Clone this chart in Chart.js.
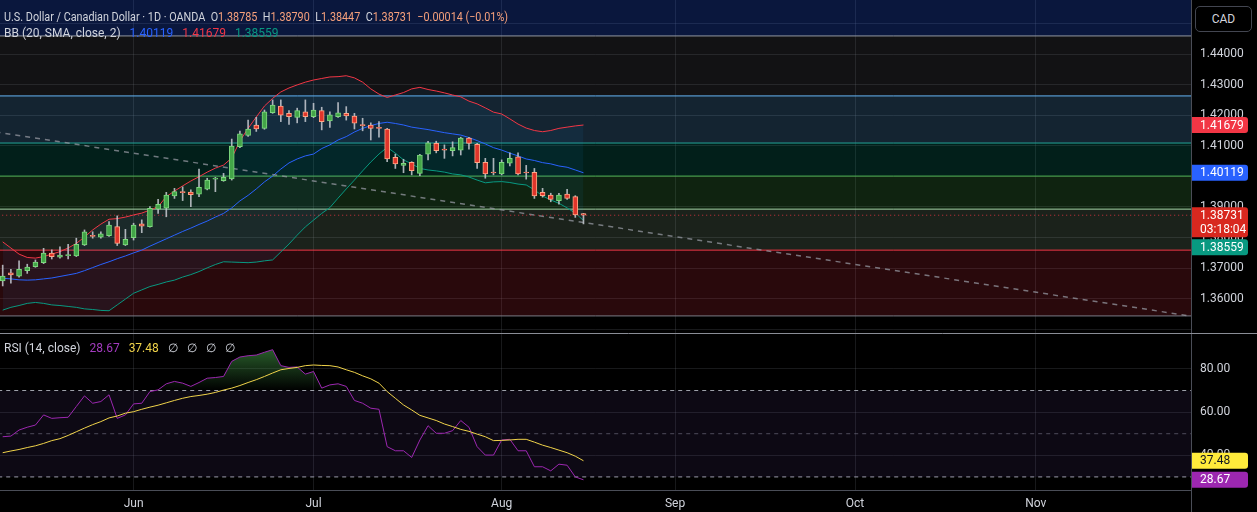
<!DOCTYPE html>
<html>
<head>
<meta charset="utf-8">
<title>USD/CAD 1D</title>
<script src="https://cdn.jsdelivr.net/npm/chart.js@4.4.1/dist/chart.umd.min.js"></script>
<style>
  html, body { margin: 0; padding: 0; background: #000; overflow: hidden; }
  #wrap { position: relative; width: 1257px; height: 512px; font-family: Roboto, "Noto Sans", sans-serif; }
  #priceChart { position: absolute; left: 0; top: 0; }
  #rsiChart { position: absolute; left: 0; top: 333px; }
  .legend { position: absolute; left: 4px; font-size: 12px; line-height: 14px; color: #d1d4dc; white-space: nowrap; }
  #titleLine { transform: scaleX(0.9); transform-origin: 0 0; }
  .legend .k { margin-left: 6px; }
  .legend .gap { margin-left: 9px; }
  .dn { color: #f7a17c; }
  #cad { position: absolute; left: 1195px; top: 6px; width: 57px; height: 26px; box-sizing: border-box;
         border: 1px solid #434651; border-radius: 5px; color: #d1d4dc; font-size: 12px; line-height: 24px;
         text-align: center; background: #000; }
</style>
</head>
<body>
<div id="wrap">
  <canvas id="priceChart" width="1257" height="333"></canvas>
  <canvas id="rsiChart" width="1257" height="179"></canvas>
  <div class="legend" id="titleLine" style="top:10px"></div>
  <div class="legend" id="bbLine" style="top:26px"></div>
  <div class="legend" id="rsiLine" style="top:341px"></div>
  <div id="cad">CAD</div>
</div>
<script>
// daily candles, one per bar index
const candleOpen = [
  1.3658, 1.3685, 1.3674, 1.3692, 1.3705, 1.3718, 1.3749, 1.3736, 1.3741, 1.3740,
  1.3776, 1.3806, 1.3801, 1.3806, 1.3836, 1.3776, 1.3800, 1.3845, 1.3836, 1.3893,
  1.3896, 1.3936, 1.3948, 1.3949, 1.3942, 1.3958, 1.3991, 1.3986, 1.3992, 1.4097,
  1.4134, 1.4168, 1.4157, 1.4208, 1.4230, 1.4206, 1.4193, 1.4211, 1.4195, 1.4215,
  1.4181, 1.4195, 1.4206, 1.4197, 1.4168, 1.4168, 1.4158, 1.4155, 1.4062, 1.4036,
  1.4046, 1.4010, 1.4073, 1.4108, 1.4087, 1.4084, 1.4086, 1.4125, 1.4105, 1.4046,
  1.4013, 1.4008, 1.4043, 1.4064, 1.4013, 1.4013, 1.3948, 1.3939, 1.3921, 1.3942,
  1.3934, 1.38785
];
const candleHigh = [
  1.3710, 1.3696, 1.3724, 1.3713, 1.3727, 1.3765, 1.3760, 1.3770, 1.3778, 1.3798,
  1.3825, 1.3819, 1.3819, 1.3852, 1.3871, 1.3827, 1.3847, 1.3858, 1.3901, 1.3925,
  1.3948, 1.3961, 1.3966, 1.3956, 1.4024, 1.3994, 1.3997, 1.4010, 1.4122, 1.4148,
  1.4184, 1.4193, 1.4217, 1.4250, 1.4250, 1.4215, 1.4223, 1.4250, 1.4239, 1.4226,
  1.4211, 1.4241, 1.4228, 1.4206, 1.4190, 1.4175, 1.4179, 1.4157, 1.4073, 1.4056,
  1.4048, 1.4072, 1.4115, 1.4115, 1.4103, 1.4113, 1.4128, 1.4128, 1.4108, 1.4059,
  1.4059, 1.4054, 1.4077, 1.4077, 1.4036, 1.4026, 1.3961, 1.3945, 1.3945, 1.3958,
  1.3937, 1.38790
];
const candleLow = [
  1.3642, 1.3651, 1.3671, 1.3683, 1.3703, 1.3715, 1.3730, 1.3733, 1.3730, 1.3738,
  1.3774, 1.3798, 1.3798, 1.3804, 1.3774, 1.3774, 1.3792, 1.3816, 1.3834, 1.3879,
  1.3868, 1.3928, 1.3921, 1.3901, 1.3934, 1.3956, 1.3950, 1.3984, 1.3988, 1.4094,
  1.4131, 1.4147, 1.4154, 1.4206, 1.4179, 1.4170, 1.4175, 1.4179, 1.4192, 1.4152,
  1.4160, 1.4193, 1.4184, 1.4155, 1.4149, 1.4119, 1.4128, 1.4048, 1.4026, 1.4012,
  1.4005, 1.4002, 1.4054, 1.4077, 1.4059, 1.4067, 1.4070, 1.4089, 1.4026, 1.3994,
  1.4005, 1.4005, 1.4034, 1.4005, 1.3991, 1.3928, 1.3932, 1.3917, 1.3909, 1.3925,
  1.3866, 1.38447
];
const candleClose = [
  1.3674, 1.3678, 1.3696, 1.3704, 1.3720, 1.3749, 1.3738, 1.3743, 1.3743, 1.3778,
  1.3819, 1.3804, 1.3812, 1.3841, 1.3781, 1.3794, 1.3841, 1.3837, 1.3896, 1.3909,
  1.3939, 1.3950, 1.3947, 1.3940, 1.3964, 1.3988, 1.3992, 1.3997, 1.4099, 1.4139,
  1.4155, 1.4155, 1.4211, 1.4233, 1.4200, 1.4195, 1.4215, 1.4195, 1.4217, 1.4179,
  1.4201, 1.4208, 1.4198, 1.4174, 1.4166, 1.4157, 1.4157, 1.4057, 1.4041, 1.4043,
  1.4019, 1.4070, 1.4110, 1.4084, 1.4086, 1.4094, 1.4125, 1.4108, 1.4045, 1.4008,
  1.4011, 1.4046, 1.4059, 1.4008, 1.4011, 1.3936, 1.3937, 1.3925, 1.3939, 1.3928,
  1.38745, 1.38731
];

// Bollinger bands (20, 2)
const bbUpper = [
  1.3786, 1.3766, 1.3746, 1.3735, 1.3733, 1.3738, 1.3746, 1.3754, 1.3766, 1.3781,
  1.3802, 1.3825, 1.3844, 1.3860, 1.3862, 1.3867, 1.3874, 1.3880, 1.3890, 1.3901,
  1.3934, 1.3952, 1.3969, 1.3985, 1.3999, 1.4014, 1.4027, 1.4037, 1.4060, 1.4116,
  1.4157, 1.4194, 1.4230, 1.4255, 1.4276, 1.4289, 1.4299, 1.4308, 1.4315, 1.4320,
  1.4325, 1.4326, 1.4329, 1.4322, 1.4308, 1.4286, 1.4269, 1.4258, 1.4266, 1.4274,
  1.4286, 1.4291, 1.4284, 1.4279, 1.4273, 1.4266, 1.4260, 1.4246, 1.4237, 1.4224,
  1.4210, 1.4204, 1.4188, 1.4171, 1.4158, 1.4150, 1.4146, 1.4150, 1.4157, 1.4161,
  1.4165, 1.41679
];
const bbBasis = [
  1.3667, 1.3665, 1.3662, 1.3661, 1.3662, 1.3665, 1.3668, 1.3673, 1.3678, 1.3683,
  1.3692, 1.3702, 1.3712, 1.3721, 1.3731, 1.3740, 1.3750, 1.3759, 1.3772, 1.3784,
  1.3796, 1.3808, 1.3820, 1.3831, 1.3843, 1.3854, 1.3867, 1.3879, 1.3897, 1.3920,
  1.3938, 1.3959, 1.3982, 1.4001, 1.4024, 1.4044, 1.4057, 1.4067, 1.4073, 1.4091,
  1.4103, 1.4119, 1.4130, 1.4145, 1.4157, 1.4166, 1.4173, 1.4177, 1.4173, 1.4168,
  1.4161, 1.4157, 1.4153, 1.4148, 1.4143, 1.4139, 1.4135, 1.4127, 1.4117, 1.4106,
  1.4094, 1.4086, 1.4076, 1.4067, 1.4057, 1.4052, 1.4045, 1.4041, 1.4034, 1.4030,
  1.4021, 1.40119
];
const bbLower = [
  1.3563, 1.3572, 1.3578, 1.3585, 1.3588, 1.3585, 1.3580, 1.3578, 1.3575, 1.3572,
  1.3567, 1.3565, 1.3562, 1.3561, 1.3580, 1.3599, 1.3618, 1.3629, 1.3640, 1.3647,
  1.3655, 1.3661, 1.3671, 1.3679, 1.3689, 1.3701, 1.3712, 1.3721, 1.3720, 1.3719,
  1.3718, 1.3720, 1.3724, 1.3727, 1.3753, 1.3779, 1.3808, 1.3835, 1.3857, 1.3879,
  1.3898, 1.3929, 1.3959, 1.3988, 1.4018, 1.4047, 1.4073, 1.4095, 1.4076, 1.4054,
  1.4041, 1.4026, 1.4021, 1.4018, 1.4014, 1.4008, 1.4005, 1.3998, 1.3988, 1.3979,
  1.3982, 1.3983, 1.3980, 1.3975, 1.3972, 1.3956, 1.3936, 1.3923, 1.3912, 1.3897,
  1.3880, 1.38559
];

// RSI (14) and its moving average
const rsiValues = [
  48.6, 48.9, 51.7, 53.0, 54.0, 58.7, 57.1, 57.4, 57.6, 62.6,
  67.5, 64.1, 64.9, 68.0, 57.1, 58.7, 63.8, 64.1, 69.5, 70.3,
  73.1, 74.2, 73.4, 71.9, 73.7, 75.7, 76.0, 76.5, 83.5, 85.5,
  86.1, 86.4, 87.7, 88.9, 81.5, 80.7, 80.9, 77.6, 78.8, 71.1,
  72.6, 73.1, 71.9, 65.4, 64.1, 61.8, 61.3, 44.0, 42.1, 42.1,
  39.0, 47.1, 53.7, 50.2, 50.2, 51.4, 56.1, 53.0, 44.0, 40.1,
  40.1, 47.1, 47.4, 42.1, 42.1, 34.7, 34.7, 32.8, 35.9, 35.4,
  30.0, 28.67
];
const rsiMa = [
  41.2, 42.0, 42.7, 43.6, 44.4, 45.5, 46.8, 47.7, 49.2, 50.9,
  52.6, 54.2, 55.6, 57.3, 58.2, 59.5, 60.2, 61.3, 62.3, 63.2,
  64.3, 65.4, 66.4, 67.2, 67.7, 68.3, 69.1, 70.2, 71.1, 72.3,
  73.7, 75.0, 76.5, 78.1, 79.6, 80.2, 80.7, 81.5, 81.8, 81.6,
  81.5, 80.9, 79.6, 78.4, 76.8, 75.4, 73.4, 69.5, 66.4, 63.3,
  61.0, 58.5, 57.3, 56.1, 54.5, 53.3, 52.0, 51.1, 49.8, 48.6,
  46.8, 46.9, 47.1, 47.4, 47.4, 46.1, 44.7, 43.6, 42.4, 41.2,
  39.6, 37.48
];

// drawings: fib retracement levels (0 .. 1) and its anchor trend line
const fibLevels = [1.3544, 1.3759, 1.3893, 1.4001, 1.4109, 1.4263, 1.4459];
const trendBars = [-77, 145.1];
const trendPrices = [1.4459, 1.3544];

// axes
const monthLabels = ['Jun', 'Jul', 'Aug', 'Sep', 'Oct', 'Nov'];
const monthBars = [16, 38, 61, 82.2, 104.2, 126.3];
const priceTicks = [1.35, 1.36, 1.37, 1.38, 1.39, 1.40, 1.41, 1.42, 1.43, 1.44, 1.45];
const rsiTicks = [40, 60, 80];
const rsiBands = [70, 50, 30];
const countdown = '03:18:04';

// ---- styling ----
const X_MIN = -0.33, X_MAX = 145.27;
const P_MIN = 1.34882, P_MAX = 1.45765;
const R_MIN = 23.94, R_MAX = 96.62;
const GRID = 'rgba(120,123,134,0.2)';
const AXIS_LINE = '#4a4d57';
const TEXT = '#d1d4dc';

const fibLineColors = ['#787b86', '#f23645', '#a5d6a7', '#4caf50', '#26a69a', '#64b5f6', '#9598a1'];
const fibFillColors = [
  'rgba(242,54,69,0.17)', 'rgba(165,214,167,0.16)', 'rgba(76,175,80,0.2)', 'rgba(8,153,129,0.2)',
  'rgba(100,181,246,0.2)', 'rgba(120,123,134,0.15)', 'rgba(41,98,255,0.24)'
];

Chart.defaults.font.family = 'Roboto, "Noto Sans", sans-serif';
Chart.defaults.font.size = 12;
Chart.defaults.color = TEXT;

const last = candleClose.length - 1;
const across = v => [{x: X_MIN - 10, y: v}, {x: X_MAX + 10, y: v}];
const series = arr => arr.map((v, i) => ({x: i, y: v}));
const isUp = i => candleClose[i] >= candleOpen[i];

const lineDs = (data, color, extra) => Object.assign({
  type: 'line', data, borderColor: color, borderWidth: 1, pointRadius: 0, tension: 0, fill: false
}, extra);

const roundRect = (ctx, x, y, w, h, r) => {
  ctx.beginPath();
  ctx.moveTo(x, y);
  ctx.lineTo(x + w - r, y);
  ctx.arcTo(x + w, y, x + w, y + r, r);
  ctx.lineTo(x + w, y + h - r);
  ctx.arcTo(x + w, y + h, x + w - r, y + h, r);
  ctx.lineTo(x, y + h);
  ctx.closePath();
};

// value tags on the right axis, pushed apart when they collide
const tagPlugin = (items) => ({
  id: 'axisTags',
  afterDraw(chart) {
    const {ctx, chartArea, scales} = chart;
    const tags = items.map(t => Object.assign({}, t, {y: scales.y.getPixelForValue(t.value)}))
      .sort((a, b) => a.y - b.y);
    let prevBottom = -Infinity;
    ctx.save();
    ctx.font = '12px Roboto, "Noto Sans", sans-serif';
    ctx.textBaseline = 'middle';
    ctx.textAlign = 'left';
    tags.forEach(t => {
      const h = 16 + (t.lines.length - 1) * 14;
      let top = t.y - 8;
      if (top < prevBottom + 2) top = prevBottom + 2;
      prevBottom = top + h;
      ctx.fillStyle = t.bg;
      roundRect(ctx, chartArea.right + 1, top, 56, h, 3);
      ctx.fill();
      ctx.fillStyle = t.fg;
      t.lines.forEach((s, k) => ctx.fillText(s, chartArea.right + 9, top + 8.5 + k * 14));
    });
    ctx.restore();
  }
});

const paneFrame = {
  id: 'paneFrame',
  afterDraw(chart) {
    const {ctx, chartArea, width, height} = chart;
    ctx.save();
    ctx.lineWidth = 1;
    ctx.strokeStyle = '#8a8d96';
    ctx.beginPath(); ctx.moveTo(0, 0.5); ctx.lineTo(width, 0.5); ctx.stroke();
    ctx.strokeStyle = AXIS_LINE;
    ctx.beginPath();
    ctx.moveTo(Math.round(chartArea.right) + 0.5, chartArea.bottom);
    ctx.lineTo(Math.round(chartArea.right) + 0.5, height);
    ctx.stroke();
    ctx.restore();
  }
};

const fmt5 = v => v.toFixed(5);

// ---- price pane ----
const fibDatasets = fibLevels.map((v, k) => lineDs(across(v), fibLineColors[k], {
  fill: k < fibLevels.length - 1 ? '+1' : 'end',
  backgroundColor: fibFillColors[k],
  order: 20
}));
const upperIndex = fibDatasets.length + 1;

new Chart(document.getElementById('priceChart'), {
  type: 'bar',
  data: {
    datasets: [
      ...fibDatasets,
      lineDs(series(bbBasis), '#2962ff', {order: 10}),
      lineDs(series(bbUpper), '#f23645', {order: 10}),
      lineDs(series(bbLower), '#089981', {order: 10, fill: upperIndex, backgroundColor: 'rgba(33,150,243,0.07)'}),
      lineDs(trendBars.map((b, k) => ({x: b, y: trendPrices[k]})), 'rgba(149,152,161,0.75)',
        {borderDash: [5, 5], borderWidth: 1.5, order: 8}),
      lineDs(across(candleClose[last]), 'rgba(242,54,69,0.85)', {borderDash: [1, 3], order: 7}),
      {
        type: 'bar',
        data: candleLow.map((l, i) => ({x: i, y: [l, candleHigh[i]]})),
        backgroundColor: 'rgba(200,203,210,0.85)',
        barThickness: 1, grouped: false, order: 2
      },
      {
        type: 'bar',
        data: candleOpen.map((o, i) => ({x: i, y: [o, candleClose[i]]})),
        backgroundColor: candleOpen.map((_, i) => isUp(i) ? '#43a548' : '#e0352b'),
        borderColor: candleOpen.map((_, i) => isUp(i) ? '#7ed87f' : '#ffa585'),
        borderWidth: 1, borderSkipped: false, minBarLength: 1,
        barThickness: 5, grouped: false, order: 1
      }
    ]
  },
  options: {
    responsive: false, animation: false, devicePixelRatio: 1, events: [],
    layout: {padding: 0},
    plugins: {legend: {display: false}, tooltip: {enabled: false}},
    scales: {
      x: {
        type: 'linear', min: X_MIN, max: X_MAX, offset: false, bounds: 'data',
        grid: {color: GRID, drawTicks: false, offset: false},
        border: {display: false},
        ticks: {display: false},
        afterBuildTicks: s => { s.ticks = monthBars.map(v => ({value: v})); },
        afterFit: s => { s.height = 0; s.paddingLeft = 0; s.paddingRight = 0; }
      },
      y: {
        position: 'right', min: P_MIN, max: P_MAX, bounds: 'data',
        grid: {color: GRID, drawTicks: false},
        border: {color: AXIS_LINE},
        ticks: {color: TEXT, padding: 9, autoSkip: false,
          callback: v => (v > 1.355 && v < 1.445) ? v.toFixed(5) : ''},
        afterBuildTicks: s => { s.ticks = priceTicks.map(v => ({value: v})); },
        afterFit: s => { s.width = 66; s.paddingTop = 0; s.paddingBottom = 0; }
      }
    }
  },
  plugins: [tagPlugin([
    {value: bbUpper[last], bg: '#f23645', fg: '#fff', lines: [fmt5(bbUpper[last])]},
    {value: bbBasis[last], bg: '#2962ff', fg: '#fff', lines: [fmt5(bbBasis[last])]},
    {value: candleClose[last], bg: '#d8281f', fg: '#fff', lines: [fmt5(candleClose[last]), countdown]},
    {value: bbLower[last], bg: '#089981', fg: '#fff', lines: [fmt5(bbLower[last])]}
  ])]
});

// ---- RSI pane ----
new Chart(document.getElementById('rsiChart'), {
  type: 'line',
  data: {
    datasets: [
      lineDs(across(rsiBands[0]), '#9ea1aa', {borderDash: [4, 4], fill: '+1',
        backgroundColor: 'rgba(126,87,194,0.1)', order: 5}),
      lineDs(across(rsiBands[2]), '#9ea1aa', {borderDash: [4, 4], order: 5}),
      lineDs(across(rsiBands[1]), 'rgba(120,123,134,0.6)', {borderDash: [4, 4], order: 5}),
      lineDs(series(rsiValues), '#9c27b0', {
        order: 1,
        fill: {target: {value: rsiBands[0]}, below: 'transparent'},
        backgroundColor: c => {
          const {ctx, chartArea, scales} = c.chart;
          if (!chartArea) return 'transparent';
          const g = ctx.createLinearGradient(0, scales.y.getPixelForValue(90), 0, scales.y.getPixelForValue(70));
          g.addColorStop(0, 'rgba(76,175,80,0.55)');
          g.addColorStop(1, 'rgba(76,175,80,0)');
          return g;
        }
      }),
      lineDs(series(rsiMa), '#f0d34a', {order: 0})
    ]
  },
  options: {
    responsive: false, animation: false, devicePixelRatio: 1, events: [],
    layout: {padding: 0},
    plugins: {legend: {display: false}, tooltip: {enabled: false}},
    scales: {
      x: {
        type: 'linear', min: X_MIN, max: X_MAX, offset: false, bounds: 'data',
        grid: {color: GRID, drawTicks: false},
        border: {color: AXIS_LINE},
        ticks: {color: TEXT, padding: 7, maxRotation: 0, autoSkip: false,
          callback: (v, i) => monthLabels[i]},
        afterBuildTicks: s => { s.ticks = monthBars.map(v => ({value: v})); },
        afterFit: s => { s.height = 22; s.paddingLeft = 0; s.paddingRight = 0; }
      },
      y: {
        position: 'right', min: R_MIN, max: R_MAX, bounds: 'data',
        grid: {color: GRID, drawTicks: false},
        border: {color: AXIS_LINE},
        ticks: {color: TEXT, padding: 9, autoSkip: false, callback: v => v.toFixed(2)},
        afterBuildTicks: s => { s.ticks = rsiTicks.map(v => ({value: v})); },
        afterFit: s => { s.width = 66; s.paddingTop = 0; s.paddingBottom = 0; }
      }
    }
  },
  plugins: [paneFrame, tagPlugin([
    {value: rsiMa[last], bg: '#ffeb3b', fg: '#131722', lines: [rsiMa[last].toFixed(2)]},
    {value: rsiValues[last], bg: '#9c27b0', fg: '#fff', lines: [rsiValues[last].toFixed(2)]}
  ])]
});

// ---- legends ----
const chg = candleClose[last] - candleClose[last - 1];
const pct = chg / candleClose[last - 1] * 100;
const signed = (v, d) => (v < 0 ? '\u2212' : '+') + Math.abs(v).toFixed(d);
document.getElementById('titleLine').innerHTML =
  'U.S. Dollar / Canadian Dollar \u00b7 1D \u00b7 OANDA' +
  `<span class="k">O</span><span class="dn">${fmt5(candleOpen[last])}</span>` +
  `<span class="k">H</span><span class="dn">${fmt5(candleHigh[last])}</span>` +
  `<span class="k">L</span><span class="dn">${fmt5(candleLow[last])}</span>` +
  `<span class="k">C</span><span class="dn">${fmt5(candleClose[last])}</span>` +
  `<span class="k dn">${signed(chg, 5)} (${signed(pct, 2)}%)</span>`;
document.getElementById('bbLine').innerHTML =
  'BB (20, SMA, close, 2)' +
  `<span class="gap" style="color:#2962ff">${fmt5(bbBasis[last])}</span>` +
  `<span class="gap" style="color:#f23645">${fmt5(bbUpper[last])}</span>` +
  `<span class="gap" style="color:#089981">${fmt5(bbLower[last])}</span>`;
document.getElementById('rsiLine').innerHTML =
  'RSI (14, close)' +
  `<span class="gap" style="color:#a33bbf">${rsiValues[last].toFixed(2)}</span>` +
  `<span class="gap" style="color:#f0d34a">${rsiMa[last].toFixed(2)}</span>` +
  '<span class="gap">\u2205</span><span class="gap">\u2205</span><span class="gap">\u2205</span><span class="gap">\u2205</span>';
</script>
</body>
</html>
